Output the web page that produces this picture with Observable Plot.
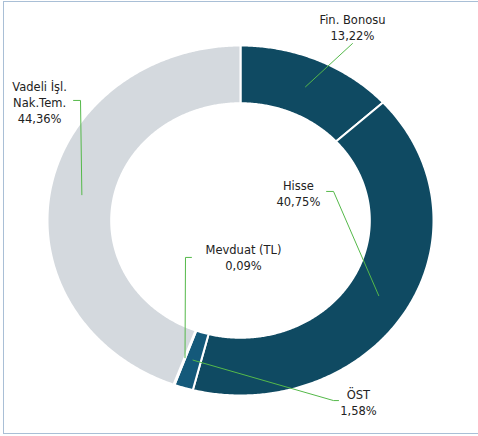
<!DOCTYPE html>
<html><head><meta charset="utf-8">
<script src="https://cdn.jsdelivr.net/npm/d3@7"></script>
<script src="https://cdn.jsdelivr.net/npm/@observablehq/plot@0.6"></script>
<style>
body{margin:0;background:#fff}
#chart{position:relative;width:478px;height:436px;overflow:hidden}
#frame{position:absolute;left:3px;top:1px;width:490px;height:431px;border:1.5px solid #a9bfd6;pointer-events:none}
</style>
</head><body>
<div id="chart"><div id="frame"></div></div>
<script>
// ---- data ----
const categories = ["Fin. Bonosu", "Hisse", "ÖST", "Mevduat (TL)", "Vadeli İşl.\nNak.Tem."];
const shares = [13.22, 40.75, 1.58, 0.09, 44.36];
const shareLabels = ["13,22%", "40,75%", "1,58%", "0,09%", "44,36%"];

// ---- styling / layout (not data) ----
const sliceColors = ["#0f4a62", "#0f4a62", "#14597a", "#5f8aa3", "#d4d9de"];
const outerR = 1.0, innerR = 0.67, anchorR = 0.835;
// label block centres (ring-radius units, y up)
const labelPos = [[0.58, 1.109], [0.30, 0.16], [0.611, -1.034], [0.0155, -0.209], [-1.041, 0.68]];
// leader line bends after the in-slice anchor point
const leaderBends = [
  [[0.58, 1.011]],
  [[0.482, 0.166], [0.446, 0.166]],
  [[0.482, -1.029], [0.508, -1.029]],
  [[-0.285, -0.211], [-0.254, -0.211]],
  [[-0.829, 0.686], [-0.865, 0.686]]
];

const total = d3.sum(shares);
const ends = d3.cumsum(shares);
const toAngle = v => v / total * 2 * Math.PI;

// slice polygons
const ring = [];
shares.forEach((s, i) => {
  const a0 = toAngle(ends[i] - s), a1 = toAngle(ends[i]);
  const n = Math.max(2, Math.ceil((a1 - a0) / (Math.PI / 360)));
  const outer = d3.range(n + 1).map(k => a0 + (a1 - a0) * k / n);
  outer.forEach(a => ring.push({cat: i, color: sliceColors[i], x: outerR * Math.sin(a), y: outerR * Math.cos(a)}));
  outer.slice().reverse().forEach(a => ring.push({cat: i, color: sliceColors[i], x: innerR * Math.sin(a), y: innerR * Math.cos(a)}));
});

// leader lines
const leaders = [];
shares.forEach((s, i) => {
  const mid = toAngle(ends[i] - s / 2);
  leaders.push({cat: i, x: anchorR * Math.sin(mid), y: anchorR * Math.cos(mid)});
  leaderBends[i].forEach(([x, y]) => leaders.push({cat: i, x, y}));
});

const labels = categories.map((c, i) => ({text: c + "\n" + shareLabels[i], x: labelPos[i][0], y: labelPos[i][1]}));

const chart = Plot.plot({
  width: 478,
  height: 436,
  margin: 0,
  x: {domain: [-240 / 193, 238 / 193], axis: null},
  y: {domain: [-216 / 175, 220 / 175], axis: null},
  style: {fontFamily: "DejaVu Sans, Verdana, sans-serif", fontSize: "11.5px", background: "transparent"},
  marks: [
    Plot.line(ring, {x: "x", y: "y", z: "cat", fill: "color", stroke: "white", strokeWidth: 2, curve: "linear-closed"}),
    Plot.line(leaders, {x: "x", y: "y", z: "cat", stroke: "#55b94a", strokeWidth: 1}),
    Plot.text(labels, {x: "x", y: "y", text: "text", fill: "#222222", lineAnchor: "middle", lineHeight: 1.39, textAnchor: "middle"})
  ]
});
document.getElementById("chart").prepend(chart);
</script>
</body></html>
